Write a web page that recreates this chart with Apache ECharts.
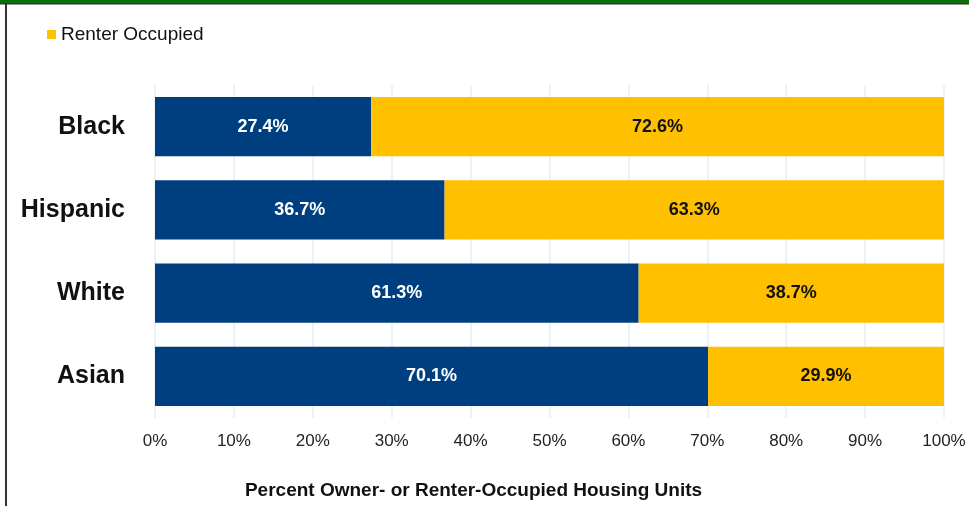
<!DOCTYPE html>
<html>
<head>
<meta charset="utf-8">
<script src="https://cdn.jsdelivr.net/npm/echarts@6/dist/echarts.min.js"></script>
<style>
  html, body { margin: 0; padding: 0; background: #fff; }
  #chart { width: 969px; height: 506px; }
</style>
</head>
<body>
<div id="chart"></div>
<script>
// Housing tenure by race/ethnicity (percent of units)
const categories = ['Black', 'Hispanic', 'White', 'Asian'];
const ownerValues = [27.4, 36.7, 61.3, 70.1];
const renterValues = [72.6, 63.3, 38.7, 29.9];
const tickValues = [0, 10, 20, 30, 40, 50, 60, 70, 80, 90, 100];

const chart = echarts.init(document.getElementById('chart'));
const font = 'Liberation Sans, Arial, sans-serif';

chart.setOption({
  animation: false,
  graphic: [
    { type: 'rect', shape: { x: 0, y: 0, width: 969, height: 3 }, style: { fill: '#0B6E0B' } },
    { type: 'rect', shape: { x: 0, y: 3, width: 969, height: 1.5 }, style: { fill: '#333' } },
    { type: 'rect', shape: { x: 5, y: 3, width: 2, height: 503 }, style: { fill: '#333' } }
  ],
  legend: {
    data: ['Renter Occupied'],
    left: 42, top: 20,
    itemWidth: 9, itemHeight: 9, itemGap: 4,
    textStyle: { fontFamily: font, fontSize: 19, color: '#111' },
    icon: 'rect'
  },
  grid: { left: 155, right: 25, top: 85, bottom: 88, containLabel: false },
  xAxis: {
    type: 'value', min: 0, max: 100, interval: 10,
    name: 'Percent Owner- or Renter-Occupied Housing Units',
    nameLocation: 'middle', nameGap: 63,
    nameTextStyle: { fontFamily: font, fontSize: 19, fontWeight: 'bold', color: '#111',
      padding: [0, 152, 0, 0] },
    axisLine: { show: false }, axisTick: { show: false },
    splitLine: { show: true, lineStyle: { color: '#E3EEF9', width: 1.5 } },
    axisLabel: {
      fontFamily: font, fontSize: 17, color: '#222', margin: 15,
      formatter: v => tickValues.includes(v) ? v + '%' : ''
    }
  },
  yAxis: {
    type: 'category', data: categories, inverse: true,
    axisLine: { show: false }, axisTick: { show: false },
    axisLabel: { fontFamily: font, fontSize: 25, fontWeight: 'bold', color: '#111', margin: 30 }
  },
  series: [
    {
      name: 'Owner Occupied', type: 'bar', stack: 'tenure', barWidth: '71%',
      data: ownerValues,
      itemStyle: { color: '#003F7F' },
      label: { show: true, position: 'inside', formatter: p => p.value.toFixed(1) + '%',
        fontFamily: font, fontSize: 18, fontWeight: 'bold', color: '#fff' }
    },
    {
      name: 'Renter Occupied', type: 'bar', stack: 'tenure', barWidth: '71%',
      data: renterValues,
      itemStyle: { color: '#FFC000' },
      label: { show: true, position: 'inside', formatter: p => p.value.toFixed(1) + '%',
        fontFamily: font, fontSize: 18, fontWeight: 'bold', color: '#111' }
    }
  ]
});
</script>
</body>
</html>
